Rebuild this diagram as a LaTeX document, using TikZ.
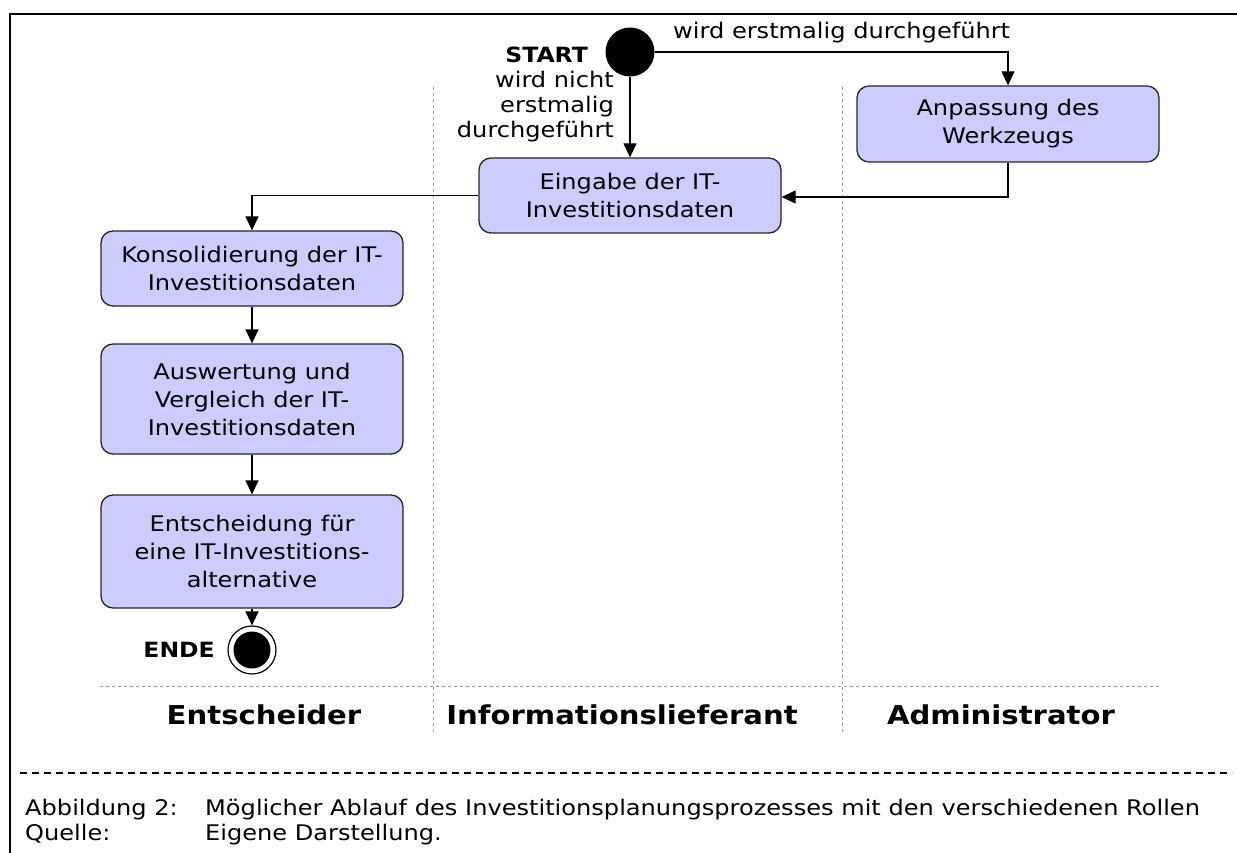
\documentclass[tikz,border=0pt]{standalone}
\usepackage{fontspec}
\setmainfont{DejaVu Sans}[FakeStretch=1.12]
\usetikzlibrary{arrows.meta}
\definecolor{boxfill}{HTML}{CCCCFF}
\definecolor{lanegray}{HTML}{999999}
\begin{document}
\begin{tikzpicture}[x=1pt,y=-1pt,
  act/.style={draw=black!85, line width=1.3pt, fill=boxfill, rounded corners=12pt,
    minimum width=302pt, align=center, font=\fontsize{21.5}{28}\selectfont, inner sep=0pt},
  flow/.style={draw=black, line width=1.3pt, -{Triangle[width=13pt,length=14pt]}},
  lbl/.style={font=\fontsize{21.5}{25}\selectfont, inner sep=0pt},
  boldlbl/.style={font=\fontsize{21}{25}\selectfont\bfseries, inner sep=0pt},
  role/.style={font=\fontsize{26}{30}\selectfont\bfseries, inner sep=0pt},
  captxt/.style={font=\fontsize{21.5}{25}\selectfont, inner sep=0pt},
  lane/.style={draw=lanegray, line width=0.8pt, dash pattern=on 3pt off 3pt}
]
\useasboundingbox (0,0) rectangle (1237,853);
% frame
\draw[line width=2.5pt] (10,853) -- (10,14) -- (1237,14);
% swimlanes
\draw[lane] (433,87) -- (433,733);
\draw[lane] (842,87) -- (842,733);
\draw[lane] (100,686) -- (1162,686);
% nodes
\node[circle, fill=black, minimum size=49pt, inner sep=0pt] (start) at (630,52) {};
\node[boldlbl, anchor=base east] (startlbl) at (588,63) {START};
\node[act, minimum height=75pt] (eingabe) at (630,195.5) {Eingabe der IT-\\Investitionsdaten};
\node[act, minimum height=76pt] (anpassung) at (1008,124) {Anpassung des\\Werkzeugs};
\node[act, minimum height=75pt] (kons) at (252,268.5) {Konsolidierung der IT-\\Investitionsdaten};
\node[act, minimum height=110pt] (ausw) at (252,399) {Auswertung und\\Vergleich der IT-\\Investitionsdaten};
\node[act, minimum height=113pt] (entsch) at (252,551.5) {Entscheidung für\\eine IT-Investitions-\\alternative};
\node[circle, draw=black, line width=1.2pt, fill=white, minimum size=48pt, inner sep=0pt] (ende) at (252,650) {};
\node[circle, fill=black, minimum size=37pt, inner sep=0pt] (endein) at (ende) {};
\node[boldlbl, anchor=east] (endelbl) at (215,650) {ENDE};
% connector labels
\node[lbl, anchor=base west] (lblyes) at (673,39) {wird erstmalig durchgeführt};
\node[lbl, align=right, anchor=north east] (lblno) at (614,71) {wird nicht\\erstmalig\\durchgeführt};
% connectors
\draw[flow] (start.south) -- (eingabe.north);
\draw[flow] (start.east) -| (anpassung.north);
\coordinate (ein) at (eingabe.east |- 0,197);
\draw[flow] (anpassung.south) |- (ein);
\draw[flow] (eingabe.west) -| (kons.north);
\draw[flow] (kons) -- (ausw);
\draw[flow] (ausw) -- (entsch);
\draw[flow] (entsch) -- (ende);
% roles
\node[role, anchor=base] (r1) at (264,724) {Entscheider};
\node[role, anchor=base] (r2) at (622,724) {Informationslieferant};
\node[role, anchor=base] (r3) at (1001,724) {Administrator};
% caption
\draw[line width=1.5pt, dash pattern=on 7pt off 5pt] (20,773) -- (1232,773);
\node[captxt, anchor=base west] (c1) at (25,815) {Abbildung 2:};
\node[captxt, anchor=base west] (c2) at (205,815) {Möglicher Ablauf des Investitionsplanungsprozesses mit den verschiedenen Rollen};
\node[captxt, anchor=base west] (c3) at (25,840) {Quelle:};
\node[captxt, anchor=base west] (c4) at (205,840) {Eigene Darstellung.};
\end{tikzpicture}
\end{document}
